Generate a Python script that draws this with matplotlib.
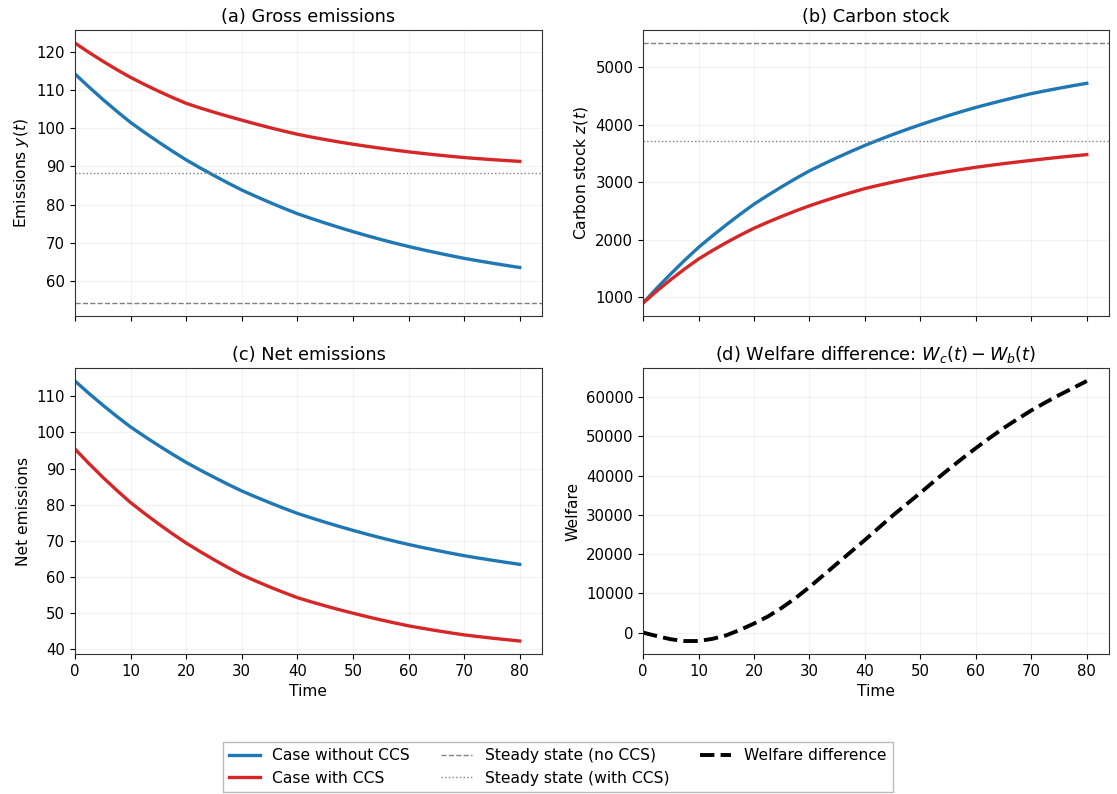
import numpy as np
import matplotlib
matplotlib.use("Agg")
import matplotlib.pyplot as plt
from matplotlib.lines import Line2D

t = [0, 2.5, 5, 7.5, 10, 12.5, 15, 17.5, 20, 22.5, 25, 27.5, 30, 32.5, 35, 37.5, 40,
     42.5, 45, 47.5, 50, 52.5, 55, 57.5, 60, 62.5, 65, 67.5, 70, 72.5, 75, 77.5, 80]

gross_no_ccs = [114.2, 110.8, 107.55, 104.45, 101.5, 98.9, 96.4, 94.0, 91.7, 89.6, 87.6, 85.65, 83.8,
                82.15, 80.57, 79.05, 77.6, 76.35, 75.15, 74.0, 72.9, 71.85, 70.85, 69.9, 69.0,
                68.17, 67.38, 66.62, 65.9, 65.26, 64.65, 64.06, 63.5]
gross_ccs = [122.3, 119.85, 117.55, 115.35, 113.3, 111.45, 109.7, 108.05, 106.5, 105.3, 104.18, 103.11,
             102.1, 101.1, 100.15, 99.25, 98.4, 97.68, 97.01, 96.38, 95.8, 95.25, 94.74, 94.25, 93.8,
             93.39, 93.0, 92.64, 92.3, 92.02, 91.76, 91.52, 91.3]

stock_no_ccs = [900, 1160, 1407, 1643, 1867, 2067, 2259, 2443, 2618, 2773, 2921, 3063, 3197,
                3315, 3428, 3536, 3640, 3736, 3828, 3916, 4000, 4080, 4157, 4230, 4300,
                4364, 4425, 4484, 4540, 4588, 4634, 4678, 4720]
stock_ccs = [900, 1110, 1307, 1492, 1665, 1812, 1950, 2079, 2200, 2306, 2406, 2501, 2590,
             2671, 2748, 2821, 2890, 2947, 3001, 3052, 3100, 3143, 3184, 3223, 3260,
             3292, 3323, 3352, 3380, 3407, 3433, 3457, 3480]

net_no_ccs = gross_no_ccs
net_ccs = [95.4, 91.4, 87.6, 84.0, 80.6, 77.6, 74.73, 72.0, 69.4, 67.04, 64.79, 62.64, 60.6,
           58.9, 57.28, 55.75, 54.3, 53.13, 52.03, 50.98, 50.0, 49.05, 48.15, 47.3, 46.5,
           45.82, 45.18, 44.57, 44.0, 43.54, 43.1, 42.69, 42.3]

welfare = [0, -900, -1700, -2150, -2150, -1600, -700, 700, 2300, 4100, 6300, 8800, 11600,
           14600, 17600, 20600, 23600, 26700, 29800, 32700, 35600, 38600, 41500, 44300, 47000,
           49600, 52100, 54400, 56600, 58600, 60500, 62300, 64100]

ss_y_no, ss_y_ccs = 54.2, 88.3
ss_z_no, ss_z_ccs = 5420, 3720

blue = "#1f77b4"
red = "#d62728"

plt.rcParams["font.family"] = "DejaVu Sans"
plt.rcParams["font.size"] = 11.2
plt.rcParams["xtick.labelsize"] = 10.7
plt.rcParams["ytick.labelsize"] = 10.7

fig = plt.figure(figsize=(11.17, 7.94), dpi=100)
L1, R1 = 0.0671, 0.4852
L2, R2 = 0.5757, 0.9928
T1, B1 = 0.9622, 0.602
T2, B2 = 0.5365, 0.1763
axA = fig.add_axes([L1, B1, R1 - L1, T1 - B1])
axB = fig.add_axes([L2, B1, R2 - L2, T1 - B1], sharex=axA)
axC = fig.add_axes([L1, B2, R1 - L1, T2 - B2], sharex=axA)
axD = fig.add_axes([L2, B2, R2 - L2, T2 - B2], sharex=axA)

lw = 2.4
tfs = 12.8
axA.plot(t, gross_no_ccs, color=blue, lw=lw)
axA.plot(t, gross_ccs, color=red, lw=lw)
axA.axhline(ss_y_no, color="gray", ls="--", lw=1)
axA.axhline(ss_y_ccs, color="gray", ls=":", lw=1)
axA.set_title("(a) Gross emissions", fontsize=tfs)
axA.set_ylabel("Emissions $y(t)$")

axB.plot(t, stock_no_ccs, color=blue, lw=lw)
axB.plot(t, stock_ccs, color=red, lw=lw)
axB.axhline(ss_z_no, color="gray", ls="--", lw=1)
axB.axhline(ss_z_ccs, color="gray", ls=":", lw=1)
axB.set_title("(b) Carbon stock", fontsize=tfs)
axB.set_ylabel("Carbon stock $z(t)$")

axC.plot(t, net_no_ccs, color=blue, lw=lw)
axC.plot(t, net_ccs, color=red, lw=lw)
axC.set_title("(c) Net emissions", fontsize=tfs)
axC.set_ylabel("Net emissions")
axC.set_xlabel("Time")

axD.plot(t, welfare, color="black", ls="--", lw=2.8)
axD.set_title("(d) Welfare difference: $W_c(t) - W_b(t)$", fontsize=tfs)
axD.set_ylabel("Welfare")
axD.set_xlabel("Time")

for ax in (axA, axB, axC, axD):
    ax.grid(True, alpha=0.25, color="#cccccc", lw=0.8)
    for s in ax.spines.values():
        s.set_color("#333333")
axA.set_xlim(0, 84)
axA.set_xticks(range(0, 81, 10))
axA.tick_params(labelbottom=False)
axB.tick_params(labelbottom=False)

handles = [
    Line2D([], [], color=blue, lw=lw, label="Case without CCS"),
    Line2D([], [], color=red, lw=lw, label="Case with CCS"),
    Line2D([], [], color="gray", ls="--", lw=1, label="Steady state (no CCS)"),
    Line2D([], [], color="gray", ls=":", lw=1, label="Steady state (with CCS)"),
    Line2D([], [], color="black", ls="--", lw=2.8, label="Welfare difference"),
]
fig.legend(handles=handles, loc="center", bbox_to_anchor=(0.4992, 0.034), ncol=3,
           fontsize=11.2, frameon=True, fancybox=False, edgecolor="#aaaaaa")

fig.savefig("out.png", dpi=100)
